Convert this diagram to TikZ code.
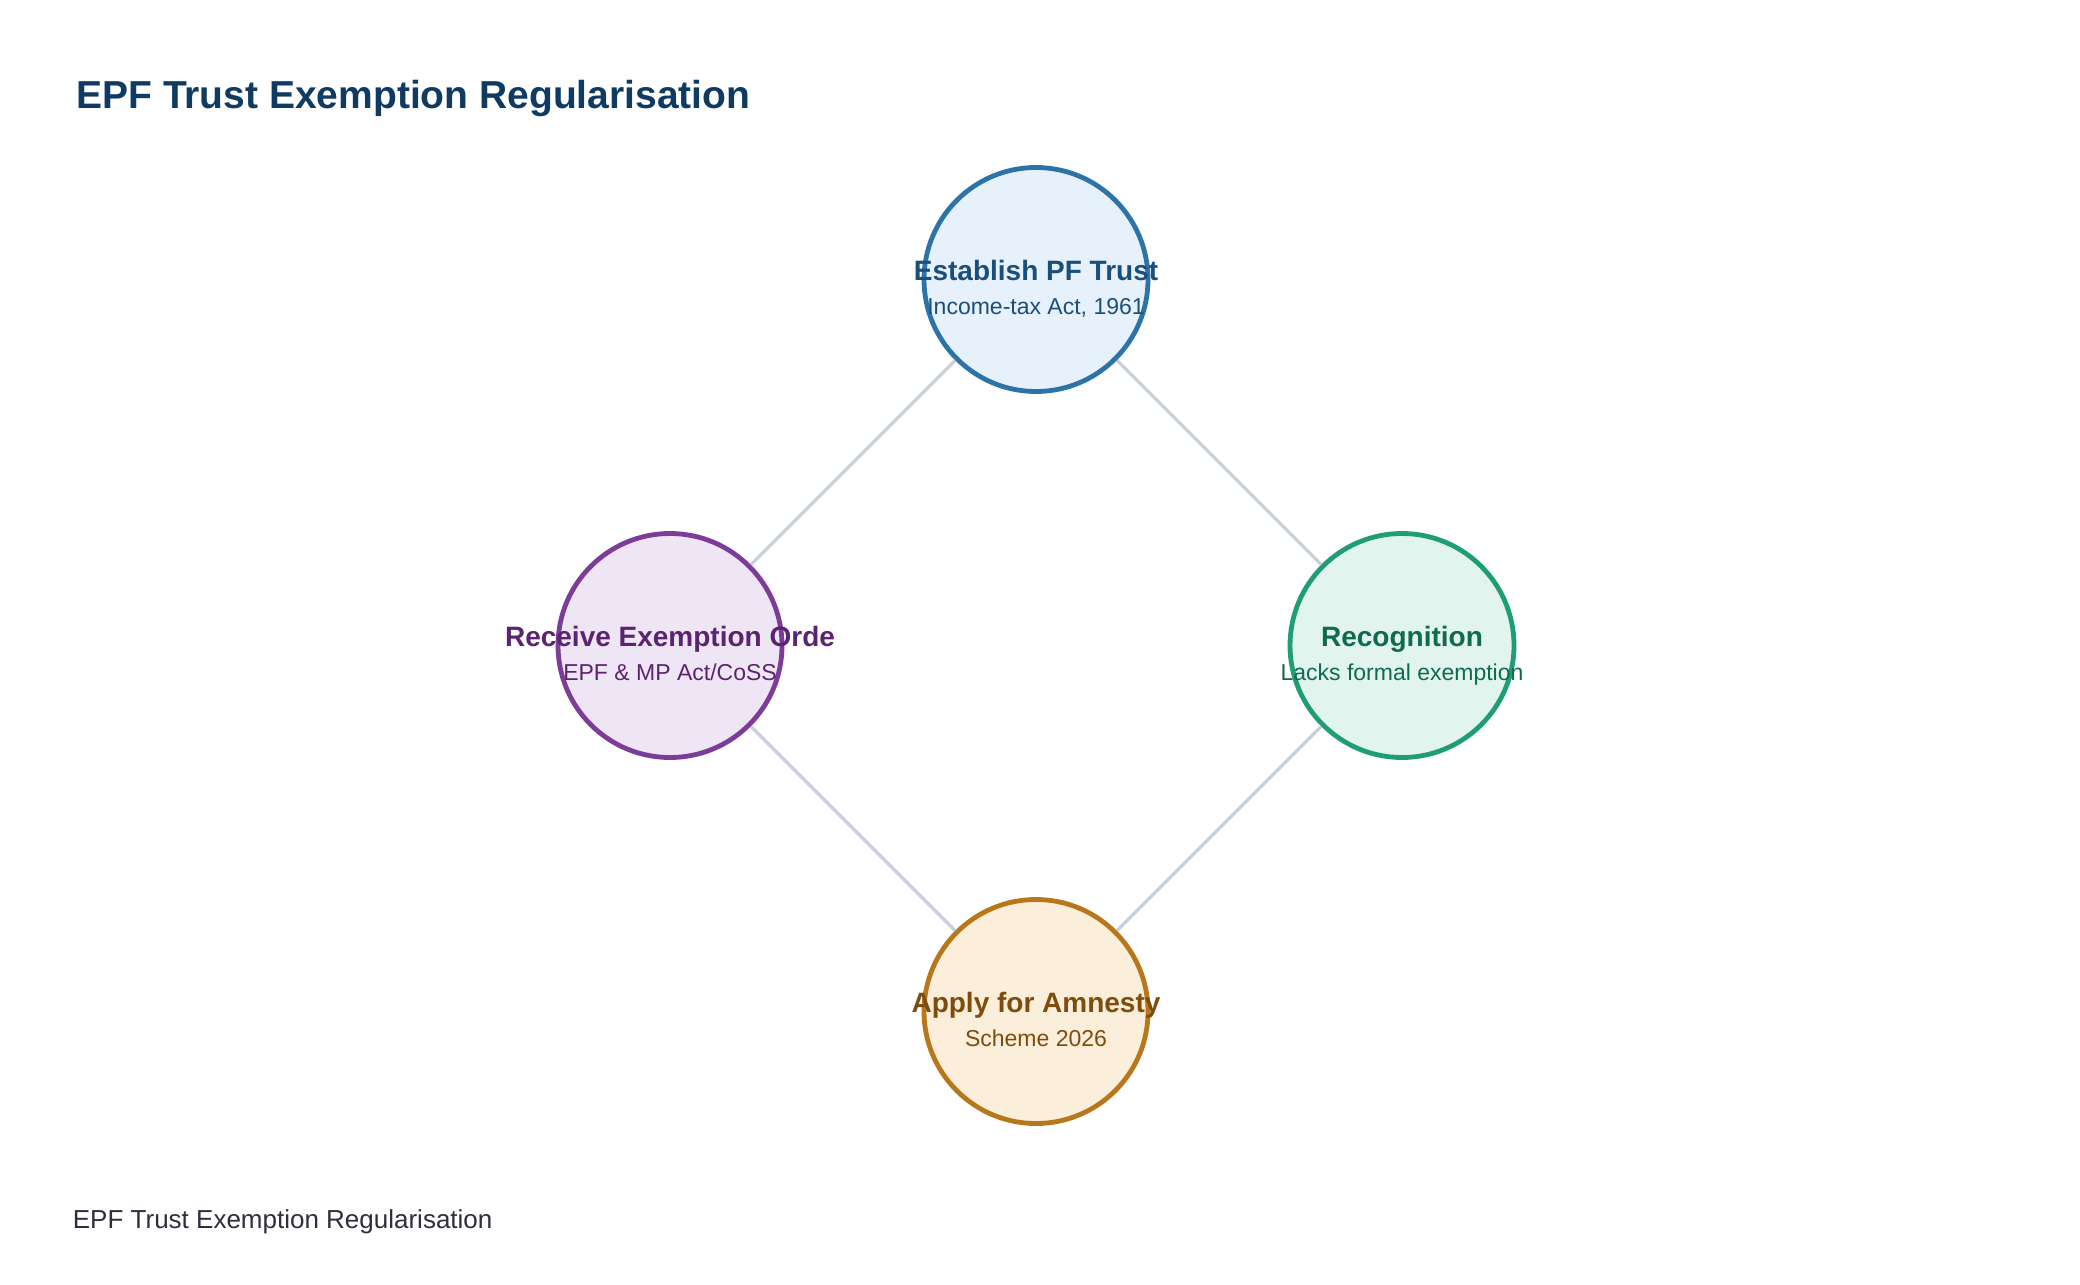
\documentclass[tikz,border=0pt]{standalone}
\usepackage{fontspec}
\setmainfont{Liberation Sans}
\usetikzlibrary{positioning}
\definecolor{titlecol}{HTML}{0F3B63}
\definecolor{footcol}{HTML}{2E2F3E}
\definecolor{conncol}{HTML}{C8D0DB}
\definecolor{blueS}{HTML}{2C74A8}
\definecolor{blueF}{HTML}{E6F1FB}
\definecolor{blueT}{HTML}{1B4F7B}
\definecolor{purpS}{HTML}{7D3C98}
\definecolor{purpF}{HTML}{EFE6F5}
\definecolor{purpT}{HTML}{5B2370}
\definecolor{greenS}{HTML}{1F9E75}
\definecolor{greenF}{HTML}{E1F5EE}
\definecolor{greenT}{HTML}{0F6B4E}
\definecolor{orS}{HTML}{B8771A}
\definecolor{orF}{HTML}{FBEEDA}
\definecolor{orT}{HTML}{7F4C0B}
\tikzset{
  stagecircle/.style={circle, draw=#1S, fill=#1F, line width=2.4pt, minimum size=112pt, inner sep=0pt},
  stagetitle/.style={anchor=base, inner sep=0pt, text=#1T, font=\fontsize{14}{16}\selectfont\bfseries},
  stagesub/.style={anchor=base, inner sep=0pt, text=#1T, font=\fontsize{11.5}{13}\selectfont},
  conn/.style={draw=conncol, line width=1.6pt},
}
\begin{document}
\begin{tikzpicture}[x=0.5pt,y=-0.5pt]
\useasboundingbox[fill=white] (0,0) rectangle (2080,1284);
% title and footer
\node[anchor=base west, inner sep=0pt, text=titlecol, font=\fontsize{19.5}{22}\selectfont\bfseries] (title) at (76,109) {EPF Trust Exemption Regularisation};
\node[anchor=base west, inner sep=0pt, text=footcol, font=\fontsize{13}{15}\selectfont] (footer) at (72.5,1228.5) {EPF Trust Exemption Regularisation};
% circles
\node[stagecircle=blue] (est) at (1036,279.5) {};
\node[stagecircle=purp] (rec) at (670,645.5) {};
\node[stagecircle=green] (recog) at (1402,645.5) {};
\node[stagecircle=or] (amn) at (1036,1011.5) {};
% connectors
\draw[conn] (est) -- (rec);
\draw[conn] (est) -- (recog);
\draw[conn] (rec) -- (amn);
\draw[conn] (recog) -- (amn);
% texts
\node[stagetitle=blue] (estT) at ([yshift=-0.7pt]est.center) {Establish PF Trust};
\node[stagesub=blue] (estS) at ([yshift=-17.7pt]est.center) {Income-tax Act, 1961};
\node[stagetitle=purp] (recT) at ([yshift=-0.7pt]rec.center) {Receive Exemption Orde};
\node[stagesub=purp] (recS) at ([yshift=-17.7pt]rec.center) {EPF \& MP Act/CoSS};
\node[stagetitle=green] (recogT) at ([yshift=-0.7pt]recog.center) {Recognition};
\node[stagesub=green] (recogS) at ([yshift=-17.7pt]recog.center) {Lacks formal exemption};
\node[stagetitle=or] (amnT) at ([yshift=-0.7pt]amn.center) {Apply for Amnesty};
\node[stagesub=or] (amnS) at ([yshift=-17.7pt]amn.center) {Scheme 2026};
\end{tikzpicture}
\end{document}
